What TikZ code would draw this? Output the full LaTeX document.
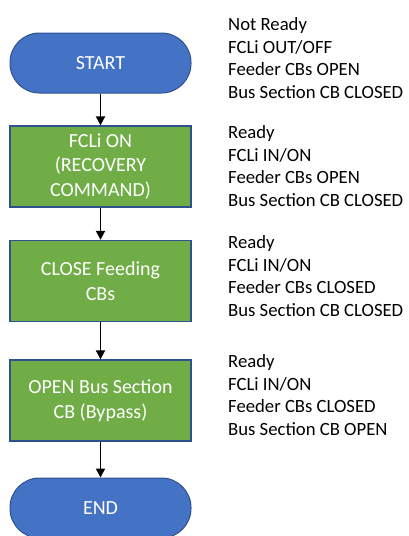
\documentclass[tikz,border=0pt]{standalone}
\usepackage{fontspec}
\setmainfont{Carlito}
\usepackage{xcolor}
\usepackage{tikz}
\usetikzlibrary{
  arrows.meta,
  positioning}

\definecolor{termblue}{HTML}{4472C4}
\definecolor{stepgreen}{HTML}{70AD47}
\definecolor{edgeblue}{HTML}{2F528F}

\tikzset{
  terminal/.style={draw=edgeblue, line width=1pt, fill=termblue,
    rounded corners=29.5pt, minimum width=181pt, minimum height=60pt,
    text=white, font=\fontsize{20}{24.4}\selectfont},
  stepbox/.style={draw=edgeblue, line width=1.3pt, fill=stepgreen,
    minimum width=181pt, minimum height=81pt, align=center,
    text=white, font=\fontsize{20}{24.4}\selectfont},
  state/.style={anchor=west, align=left, inner sep=0pt,
    font=\fontsize{18.7}{22.7}\selectfont},
  flow/.style={line width=1.8pt, -{Triangle[length=9pt,width=9pt]}}}

\begin{document}
\begin{tikzpicture}[x=1pt,y=-1pt]
  \useasboundingbox (0,0) rectangle (408,536);

  \node[terminal] (start) at (100.5,63) {START};
  \node[stepbox] (recovery) at (100.5,166.5) {FCLi ON\\(RECOVERY\\COMMAND)};
  \node[stepbox] (feeding) at (100.5,281) {CLOSE Feeding\\CBs};
  \node[stepbox] (bypass) at (100.5,400.5) {OPEN Bus Section\\CB (Bypass)};
  \node[terminal] (end) at (100.5,508) {END};

  \draw[flow] (start) -- (recovery);
  \draw[flow] (recovery) -- (feeding);
  \draw[flow] (feeding) -- (bypass);
  \draw[flow] (bypass) -- (end);

  \node[state] (s1) at (228,58) {Not Ready\\FCLi OUT/OFF\\Feeder CBs OPEN\\Bus Section CB CLOSED};
  \node[state] (s2) at (228,166) {Ready\\FCLi IN/ON\\Feeder CBs OPEN\\Bus Section CB CLOSED};
  \node[state] (s3) at (228,276) {Ready\\FCLi IN/ON\\Feeder CBs CLOSED\\Bus Section CB CLOSED};
  \node[state] (s4) at (228,395) {Ready\\FCLi IN/ON\\Feeder CBs CLOSED\\Bus Section CB OPEN};
\end{tikzpicture}
\end{document}
